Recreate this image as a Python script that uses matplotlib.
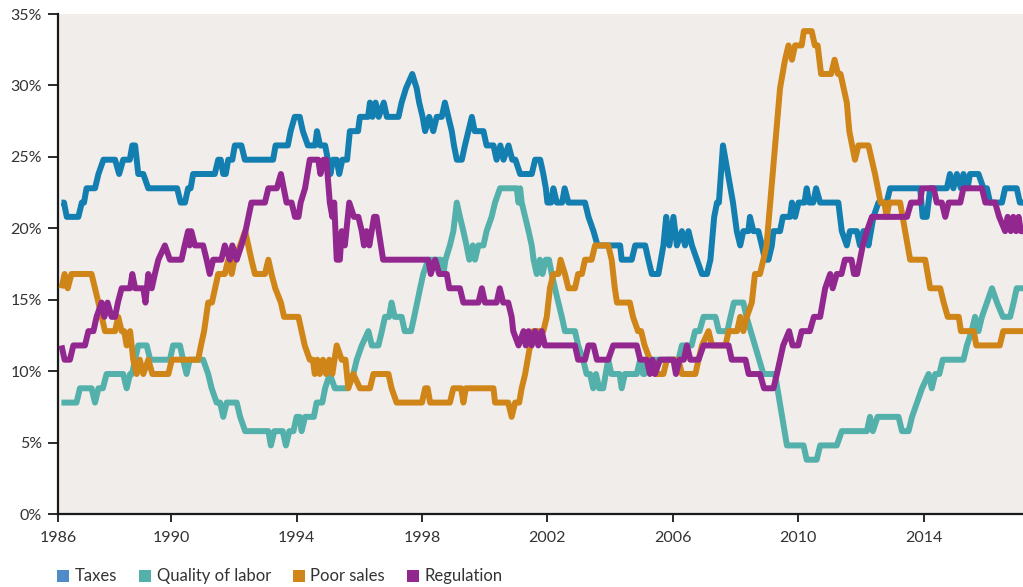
import matplotlib
matplotlib.use("Agg")
import matplotlib.pyplot as plt
from matplotlib.patches import Patch
from matplotlib.ticker import FuncFormatter

plt.rcParams['font.family'] = ['Lato', 'DejaVu Sans']

# ---- data: (decimal year, percent of respondents) ----
taxes_t = [1986.50, 1986.58, 1986.67, 1987.04, 1987.15, 1987.22, 1987.30, 1987.57, 1987.68, 1987.84,
           1988.21, 1988.34, 1988.47, 1988.68, 1988.76, 1988.85, 1988.95, 1989.11, 1989.27, 1990.19,
           1990.30, 1990.44, 1990.54, 1990.62, 1990.70, 1991.39, 1991.50, 1991.58, 1991.66, 1991.74,
           1991.82, 1991.95, 1992.03, 1992.24, 1992.35, 1993.25, 1993.33, 1993.72, 1993.81, 1993.94,
           1994.10, 1994.20, 1994.36, 1994.59, 1994.65, 1994.75, 1994.91, 1995.00, 1995.08, 1995.16,
           1995.28, 1995.36, 1995.46, 1995.61, 1995.70, 1995.96, 1996.02, 1996.28, 1996.34, 1996.42,
           1996.52, 1996.62, 1996.78, 1996.88, 1997.25, 1997.35, 1997.49, 1997.69, 1997.83, 1997.91,
           1998.02, 1998.10, 1998.23, 1998.36, 1998.47, 1998.63, 1998.73, 1998.84, 1998.95, 1999.02,
           1999.11, 1999.27, 1999.37, 1999.59, 1999.68, 1999.96, 2000.06, 2000.28, 2000.38, 2000.50,
           2000.60, 2000.76, 2000.88, 2000.98, 2001.13, 2001.50, 2001.61, 2001.77, 2001.87, 2001.95,
           2002.00, 2002.12, 2002.19, 2002.30, 2002.47, 2002.55, 2002.67, 2003.20, 2003.31, 2003.47,
           2003.60, 2004.32, 2004.37, 2004.69, 2004.80, 2005.12, 2005.22, 2005.33, 2005.54, 2005.70,
           2005.79, 2005.89, 2006.02, 2006.13, 2006.29, 2006.39, 2006.50, 2006.61, 2006.77, 2006.93,
           2007.09, 2007.20, 2007.32, 2007.41, 2007.47, 2007.60, 2007.92, 2008.04, 2008.15, 2008.25,
           2008.41, 2008.46, 2008.57, 2008.73, 2008.84, 2008.94, 2009.05, 2009.16, 2009.21, 2009.42,
           2009.51, 2009.74, 2009.80, 2009.90, 2010.01, 2010.20, 2010.27, 2010.35, 2010.48, 2010.57,
           2010.70, 2011.28, 2011.39, 2011.55, 2011.65, 2011.87, 2011.97, 2012.08, 2012.16, 2012.24,
           2012.40, 2012.56, 2012.82, 2012.93, 2013.89, 2013.97, 2014.10, 2014.21, 2014.74, 2014.84,
           2014.95, 2015.06, 2015.19, 2015.27, 2015.40, 2015.48, 2015.75, 2015.91, 2016.02, 2016.12,
           2016.50, 2016.60, 2016.97, 2017.07, 2017.17]
taxes_v = [21.8, 21.8, 20.8, 20.8, 21.8, 21.8, 22.8, 22.8, 23.8, 24.8,
           24.8, 23.8, 24.8, 24.8, 25.8, 25.8, 23.8, 23.8, 22.8, 22.8,
           21.8, 21.8, 22.8, 22.8, 23.8, 23.8, 24.8, 24.8, 23.8, 23.8,
           24.8, 24.8, 25.8, 25.8, 24.8, 24.8, 25.8, 25.8, 26.8, 27.8,
           27.8, 26.8, 25.8, 25.8, 26.8, 25.8, 25.8, 24.8, 23.8, 24.8,
           24.8, 23.8, 24.8, 24.8, 26.8, 26.8, 27.8, 27.8, 28.8, 27.8,
           28.8, 27.8, 28.8, 27.8, 27.8, 28.8, 29.8, 30.8, 29.8, 28.8,
           27.8, 26.8, 27.8, 26.8, 27.8, 27.8, 28.8, 27.8, 26.8, 25.8,
           24.8, 24.8, 25.8, 27.8, 26.8, 26.8, 25.8, 25.8, 24.8, 25.8,
           24.8, 25.8, 24.8, 24.8, 23.8, 23.8, 24.8, 24.8, 23.8, 22.8,
           21.8, 21.8, 22.8, 21.8, 21.8, 22.8, 21.8, 21.8, 20.8, 19.8,
           18.8, 18.8, 17.8, 17.8, 18.8, 18.8, 17.8, 16.8, 16.8, 18.8,
           20.8, 18.8, 20.8, 18.8, 19.8, 18.8, 19.8, 18.8, 17.8, 16.8,
           16.8, 17.8, 20.8, 21.8, 21.8, 25.8, 21.8, 19.8, 18.8, 19.8,
           19.8, 20.8, 19.8, 19.8, 18.8, 17.8, 17.8, 18.8, 19.8, 19.8,
           20.8, 20.8, 21.8, 20.8, 21.8, 21.8, 22.8, 21.8, 21.8, 22.8,
           21.8, 21.8, 19.8, 18.8, 19.8, 19.8, 18.8, 19.8, 19.8, 18.8,
           20.8, 21.8, 21.8, 22.8, 22.8, 20.8, 20.8, 22.8, 22.8, 23.8,
           22.8, 23.8, 22.8, 23.8, 22.8, 23.8, 23.8, 22.8, 22.8, 21.8,
           21.8, 22.8, 22.8, 21.8, 21.8]

labor_t = [1986.50, 1986.98, 1987.09, 1987.46, 1987.57, 1987.68, 1987.82, 1987.94, 1988.47, 1988.58,
           1988.69, 1988.75, 1988.85, 1988.95, 1989.22, 1989.33, 1989.96, 1990.06, 1990.28, 1990.38,
           1990.49, 1990.59, 1991.02, 1991.18, 1991.29, 1991.45, 1991.56, 1991.66, 1991.77, 1992.09,
           1992.20, 1992.36, 1993.10, 1993.18, 1993.29, 1993.56, 1993.66, 1993.77, 1993.90, 1994.00,
           1994.10, 1994.16, 1994.27, 1994.55, 1994.64, 1994.82, 1994.91, 1995.06, 1995.22, 1995.60,
           1995.81, 1995.92, 1996.08, 1996.29, 1996.40, 1996.61, 1996.72, 1996.82, 1996.95, 1997.03,
           1997.13, 1997.35, 1997.45, 1997.65, 1997.75, 1997.94, 1998.04, 1998.20, 1998.60, 1998.68,
           1998.75, 1998.89, 1999.00, 1999.11, 1999.21, 1999.32, 1999.42, 1999.51, 1999.62, 1999.69,
           1999.80, 1999.96, 2000.06, 2000.22, 2000.33, 2000.49, 2001.02, 2001.08, 2001.13, 2001.18,
           2001.29, 2001.40, 2001.50, 2001.56, 2001.66, 2001.76, 2001.84, 2001.95, 2002.05, 2002.14,
           2002.24, 2002.35, 2002.46, 2002.56, 2002.88, 2002.98, 2003.14, 2003.25, 2003.36, 2003.46,
           2003.55, 2003.65, 2003.78, 2003.86, 2003.94, 2004.04, 2004.30, 2004.37, 2004.47, 2004.85,
           2004.96, 2005.05, 2005.10, 2005.20, 2006.18, 2006.29, 2006.60, 2006.71, 2006.85, 2006.98,
           2007.36, 2007.47, 2007.74, 2007.84, 2007.95, 2008.25, 2008.35, 2008.89, 2009.26, 2009.64,
           2010.17, 2010.27, 2010.59, 2010.70, 2011.23, 2011.39, 2012.19, 2012.29, 2012.38, 2012.53,
           2013.20, 2013.31, 2013.52, 2013.63, 2013.79, 2013.95, 2014.16, 2014.26, 2014.37, 2014.50,
           2014.61, 2015.27, 2015.38, 2015.53, 2015.64, 2015.75, 2015.86, 2016.02, 2016.18, 2016.34,
           2016.53, 2016.76, 2016.87, 2016.97, 2017.17]
labor_v = [7.8, 7.8, 8.8, 8.8, 7.8, 8.8, 8.8, 9.8, 9.8, 8.8,
           9.8, 9.8, 10.8, 11.8, 11.8, 10.8, 10.8, 11.8, 11.8, 10.8,
           9.8, 10.8, 10.8, 9.8, 8.8, 7.8, 7.8, 6.8, 7.8, 7.8,
           6.8, 5.8, 5.8, 4.8, 5.8, 5.8, 4.8, 5.8, 5.8, 6.8,
           6.8, 5.8, 6.8, 6.8, 7.8, 7.8, 8.8, 9.8, 8.8, 8.8,
           9.8, 10.8, 11.8, 12.8, 11.8, 11.8, 12.8, 13.8, 13.8, 14.8,
           13.8, 13.8, 12.8, 12.8, 13.8, 15.8, 16.8, 17.8, 17.8, 16.8,
           17.8, 18.8, 19.8, 21.8, 20.8, 19.8, 18.8, 17.8, 18.8, 17.8,
           18.8, 18.8, 19.8, 20.8, 21.8, 22.8, 22.8, 21.8, 22.8, 21.8,
           20.8, 19.8, 18.8, 17.8, 16.8, 17.8, 16.8, 17.8, 17.8, 16.8,
           15.8, 14.8, 13.8, 12.8, 12.8, 11.8, 10.8, 9.8, 9.8, 8.8,
           9.8, 8.8, 8.8, 9.8, 10.8, 9.8, 9.8, 8.8, 9.8, 9.8,
           10.8, 9.8, 9.8, 10.8, 10.8, 11.8, 11.8, 12.8, 12.8, 13.8,
           13.8, 12.8, 12.8, 13.8, 14.8, 14.8, 13.8, 9.8, 9.8, 4.8,
           4.8, 3.8, 3.8, 4.8, 4.8, 5.8, 5.8, 6.8, 5.8, 6.8,
           6.8, 5.8, 5.8, 6.8, 7.8, 8.8, 9.8, 8.8, 9.8, 9.8,
           10.8, 10.8, 11.8, 12.8, 13.8, 12.8, 13.8, 14.8, 15.8, 14.8,
           13.8, 13.8, 14.8, 15.8, 15.8]

sales_t = [1986.50, 1986.60, 1986.70, 1986.82, 1987.46, 1987.57, 1987.68, 1987.89, 1988.21, 1988.31,
           1988.42, 1988.50, 1988.58, 1988.69, 1988.79, 1988.90, 1989.00, 1989.11, 1989.27, 1989.40,
           1989.91, 1990.02, 1990.86, 1990.95, 1991.05, 1991.18, 1991.30, 1991.40, 1991.50, 1991.71,
           1991.82, 1991.93, 1992.02, 1992.20, 1992.36, 1992.46, 1992.56, 1992.67, 1992.99, 1993.10,
           1993.20, 1993.32, 1993.50, 1993.60, 1994.06, 1994.16, 1994.26, 1994.42, 1994.52, 1994.58,
           1994.66, 1994.74, 1994.84, 1994.94, 1995.04, 1995.14, 1995.28, 1995.44, 1995.56, 1995.65,
           1995.81, 1996.02, 1996.34, 1996.45, 1996.93, 1997.03, 1997.19, 1998.00, 1998.10, 1998.18,
           1998.26, 1998.89, 1999.00, 1999.25, 1999.32, 1999.40, 2000.28, 2000.33, 2000.75, 2000.86,
           2000.97, 2001.10, 2001.18, 2001.29, 2001.37, 2001.45, 2001.55, 2001.87, 2001.98, 2002.08,
           2002.19, 2002.35, 2002.42, 2002.56, 2002.67, 2002.88, 2002.98, 2003.10, 2003.20, 2003.41,
           2003.52, 2003.94, 2004.05, 2004.15, 2004.22, 2004.63, 2004.73, 2004.89, 2004.99, 2005.10,
           2005.27, 2005.44, 2005.70, 2005.81, 2006.18, 2006.29, 2006.72, 2006.82, 2006.93, 2007.14,
           2007.25, 2007.68, 2007.78, 2008.05, 2008.15, 2008.25, 2008.36, 2008.52, 2008.62, 2008.78,
           2008.89, 2008.99, 2009.42, 2009.58, 2009.69, 2009.80, 2009.90, 2010.11, 2010.18, 2010.43,
           2010.53, 2010.62, 2010.73, 2011.05, 2011.16, 2011.27, 2011.35, 2011.55, 2011.63, 2011.81,
           2011.92, 2012.24, 2012.45, 2012.63, 2012.75, 2012.82, 2012.90, 2013.25, 2013.41, 2013.57,
           2014.05, 2014.21, 2014.53, 2014.64, 2014.77, 2015.12, 2015.19, 2015.60, 2015.68, 2016.43,
           2016.54, 2017.17]
sales_v = [15.8, 16.8, 15.8, 16.8, 16.8, 15.8, 14.8, 12.8, 12.8, 13.8,
           12.8, 12.8, 11.8, 12.8, 10.8, 9.8, 10.8, 9.8, 10.8, 9.8,
           9.8, 10.8, 10.8, 11.8, 12.8, 14.8, 14.8, 15.8, 16.8, 16.8,
           17.8, 16.8, 17.8, 18.8, 19.8, 18.8, 17.8, 16.8, 16.8, 17.8,
           16.8, 15.8, 14.8, 13.8, 13.8, 12.8, 11.8, 10.8, 10.8, 9.8,
           10.8, 9.8, 10.8, 9.8, 10.8, 9.8, 11.8, 10.8, 10.8, 8.8,
           9.8, 8.8, 8.8, 9.8, 9.8, 8.8, 7.8, 7.8, 8.8, 8.8,
           7.8, 7.8, 8.8, 8.8, 7.8, 8.8, 8.8, 7.8, 7.8, 6.8,
           7.8, 7.8, 8.8, 9.8, 10.8, 11.8, 12.8, 12.8, 13.8, 15.8,
           16.8, 16.8, 17.8, 16.8, 15.8, 15.8, 16.8, 16.8, 17.8, 17.8,
           18.8, 18.8, 17.8, 15.8, 14.8, 14.8, 13.8, 12.8, 12.8, 11.8,
           10.8, 9.8, 9.8, 10.8, 10.8, 9.8, 9.8, 10.8, 11.8, 12.8,
           11.8, 11.8, 12.8, 12.8, 13.8, 12.8, 13.8, 14.8, 16.8, 16.8,
           17.8, 18.8, 29.8, 31.8, 32.8, 31.8, 32.8, 32.8, 33.8, 33.8,
           32.8, 32.8, 30.8, 30.8, 31.8, 30.8, 30.8, 28.8, 26.8, 24.8,
           25.8, 25.8, 23.8, 21.8, 21.8, 20.8, 21.8, 21.8, 19.8, 17.8,
           17.8, 15.8, 15.8, 14.8, 13.8, 13.8, 12.8, 12.8, 11.8, 11.8,
           12.8, 12.8]

reg_t = [1986.50, 1986.60, 1986.77, 1986.88, 1987.25, 1987.36, 1987.52, 1987.62, 1987.78, 1987.87,
         1987.97, 1988.10, 1988.21, 1988.30, 1988.42, 1988.69, 1988.76, 1988.85, 1989.11, 1989.18,
         1989.27, 1989.38, 1989.48, 1989.59, 1989.80, 1989.96, 1990.33, 1990.43, 1990.54, 1990.59,
         1990.64, 1990.76, 1991.02, 1991.13, 1991.23, 1991.34, 1991.60, 1991.71, 1991.87, 1991.95,
         1992.09, 1992.24, 1992.37, 1992.56, 1992.99, 1993.10, 1993.37, 1993.50, 1993.68, 1993.84,
         1993.95, 1994.06, 1994.13, 1994.27, 1994.42, 1994.69, 1994.76, 1994.86, 1994.95, 1995.06,
         1995.14, 1995.20, 1995.28, 1995.38, 1995.44, 1995.54, 1995.68, 1995.83, 1995.97, 1996.08,
         1996.15, 1996.23, 1996.32, 1996.47, 1996.55, 1996.76, 1998.20, 1998.28, 1998.42, 1998.55,
         1998.79, 1998.87, 1999.21, 1999.32, 1999.80, 1999.91, 2000.01, 2000.38, 2000.48, 2000.59,
         2000.75, 2000.86, 2000.91, 2001.08, 2001.24, 2001.31, 2001.40, 2001.50, 2001.61, 2001.71,
         2001.82, 2001.92, 2002.88, 2002.98, 2003.20, 2003.31, 2003.47, 2003.58, 2003.94, 2004.10,
         2004.85, 2004.96, 2005.17, 2005.27, 2005.35, 2005.43, 2005.59, 2006.02, 2006.10, 2006.21,
         2006.35, 2006.45, 2006.56, 2006.82, 2006.98, 2007.78, 2007.88, 2008.32, 2008.42, 2008.78,
         2008.91, 2009.21, 2009.32, 2009.42, 2009.52, 2009.71, 2009.82, 2010.00, 2010.11, 2010.37,
         2010.50, 2010.70, 2010.86, 2011.02, 2011.10, 2011.23, 2011.38, 2011.49, 2011.70, 2011.78,
         2011.88, 2011.97, 2012.06, 2012.19, 2012.35, 2013.47, 2013.60, 2013.89, 2013.95, 2014.32,
         2014.42, 2014.58, 2014.69, 2014.80, 2015.17, 2015.27, 2015.86, 2015.97, 2016.28, 2016.41,
         2016.60, 2016.68, 2016.78, 2016.86, 2016.95, 2017.03, 2017.10, 2017.17]
reg_v = [11.8, 10.8, 10.8, 11.8, 11.8, 12.8, 12.8, 13.8, 14.8, 13.8,
         14.8, 13.8, 13.8, 14.8, 15.8, 15.8, 16.8, 15.8, 15.8, 14.8,
         16.8, 15.8, 16.8, 17.8, 18.8, 17.8, 17.8, 18.8, 19.8, 18.8,
         19.8, 18.8, 18.8, 17.8, 16.8, 17.8, 17.8, 18.8, 17.8, 18.8,
         17.8, 18.8, 19.8, 21.8, 21.8, 22.8, 22.8, 23.8, 21.8, 21.8,
         20.8, 20.8, 21.8, 22.8, 24.8, 24.8, 23.8, 24.8, 24.8, 21.8,
         20.8, 21.8, 17.8, 17.8, 19.8, 18.8, 21.8, 20.8, 20.8, 19.8,
         18.8, 19.8, 18.8, 20.8, 20.8, 17.8, 17.8, 16.8, 17.8, 16.8,
         16.8, 15.8, 15.8, 14.8, 14.8, 15.8, 14.8, 14.8, 15.8, 14.8,
         14.8, 13.8, 12.8, 11.8, 12.8, 11.8, 12.8, 11.8, 12.8, 11.8,
         12.8, 11.8, 11.8, 10.8, 10.8, 11.8, 11.8, 10.8, 10.8, 11.8,
         11.8, 10.8, 10.8, 9.8, 10.8, 9.8, 10.8, 10.8, 9.8, 10.8,
         10.8, 11.8, 10.8, 10.8, 11.8, 11.8, 10.8, 10.8, 9.8, 9.8,
         8.8, 8.8, 9.8, 10.8, 11.8, 12.8, 11.8, 11.8, 12.8, 12.8,
         13.8, 13.8, 15.8, 16.8, 15.8, 16.8, 16.8, 17.8, 17.8, 16.8,
         16.8, 17.8, 18.8, 19.8, 20.8, 20.8, 21.8, 21.8, 22.8, 22.8,
         21.8, 21.8, 20.8, 21.8, 21.8, 22.8, 22.8, 21.8, 21.8, 20.8,
         19.8, 20.8, 19.8, 20.8, 19.8, 20.8, 19.8, 19.8]

series_names = ["Taxes", "Quality of labor", "Poor sales", "Regulation"]
line_colors = ["#137fb1", "#54b0ab", "#cf8517", "#92288f"]
legend_colors = ["#4f8bc6", "#54b0ab", "#cf8517", "#92288f"]

x_tick_pos = [1986.39, 1990, 1994, 1998, 2002, 2006, 2010, 2014]
x_tick_labels = ["1986", "1990", "1994", "1998", "2002", "2006", "2010", "2014"]
y_ticks = [0, 5, 10, 15, 20, 25, 30, 35]

# ---- figure ----
fig = plt.figure(figsize=(10.23, 5.87), dpi=100)
ax = fig.add_axes([58 / 1023, 73 / 587, 965 / 1023, 500 / 587])
ax.set_facecolor("#f1edea")

data = [(taxes_t, taxes_v), (labor_t, labor_v), (sales_t, sales_v), (reg_t, reg_v)]
for (t, v), c in zip(data, line_colors):
    ax.plot(t, v, color=c, lw=4.3, solid_joinstyle="round", solid_capstyle="butt", zorder=3)

ax.set_xlim(1986.39, 2017.17)
ax.set_ylim(0, 35)
ax.set_xticks(x_tick_pos)
ax.set_xticklabels(x_tick_labels)
ax.set_yticks(y_ticks)
ax.yaxis.set_major_formatter(FuncFormatter(lambda v, p: f"{int(v)}%"))

for s in ["top", "right"]:
    ax.spines[s].set_visible(False)
for s in ["left", "bottom"]:
    ax.spines[s].set_color("#1a1a1a")
    ax.spines[s].set_linewidth(1.6)

ax.tick_params(axis="y", length=7.5, width=1.3, color="#1a1a1a", pad=4,
               labelsize=11.5, labelcolor="#333333")
ax.tick_params(axis="x", length=6, width=1.3, color="#1a1a1a", pad=6,
               labelsize=11.5, labelcolor="#333333")

handles = [Patch(facecolor=c, edgecolor="none", label=n) for n, c in zip(series_names, legend_colors)]
fig.legend(handles=handles, loc="center left", bbox_to_anchor=(0.041, 0.018), ncol=4,
           frameon=False, fontsize=12, handlelength=0.72, handleheight=0.72,
           handletextpad=0.35, columnspacing=1.3, labelcolor="#333333")

fig.savefig("out.png", dpi=100)
